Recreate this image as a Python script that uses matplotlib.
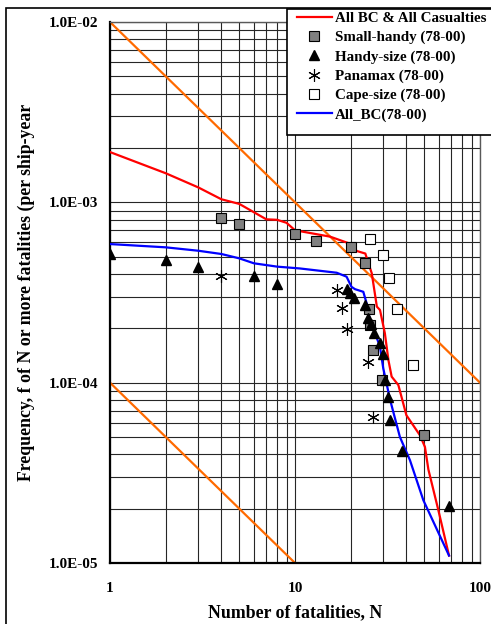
import numpy as np
import matplotlib
matplotlib.use("Agg")
import matplotlib.pyplot as plt
from matplotlib.patches import Rectangle

plt.rcParams['font.family'] = ['Liberation Serif', 'DejaVu Serif']
plt.rcParams['font.weight'] = 'bold'

# F-N curves
red_N = [1, 2, 3, 4, 5, 7, 8, 9, 10, 15.5, 19.8, 21.6, 24, 24.6, 26, 27.7, 28.8,
         30.6, 32, 33.3, 36.2, 40, 47.4, 50.4, 52.6, 59.5, 68]
red_f = [1.9e-3, 1.45e-3, 1.21e-3, 1.04e-3, 9.8e-4, 8.05e-4, 8.0e-4, 7.7e-4, 7.0e-4,
         6.45e-4, 5.9e-4, 5.37e-4, 5.2e-4, 4.8e-4, 4.04e-4, 2.64e-4, 2.53e-4,
         1.88e-4, 1.33e-4, 1.08e-4, 9.7e-5, 6.6e-5, 5.1e-5, 4.4e-5, 3.3e-5, 1.97e-5, 1.1e-5]

blue_N = [1, 2, 3, 4, 5, 6, 8, 10.6, 16.8, 19, 20.2, 21.1, 23.4, 24.4, 25.4, 27.1,
          28.8, 30, 32.7, 36.9, 41.8, 49.4, 68]
blue_f = [5.87e-4, 5.63e-4, 5.39e-4, 5.17e-4, 4.89e-4, 4.59e-4, 4.4e-4, 4.3e-4,
          4.07e-4, 3.87e-4, 3.4e-4, 3.3e-4, 3.19e-4, 2.75e-4, 2.22e-4, 1.88e-4,
          1.58e-4, 1.2e-4, 8.0e-5, 5.0e-5, 3.72e-5, 2.23e-5, 1.1e-5]

# ship categories
small_N = [4, 5, 10, 13, 20, 24, 25, 25.5, 26.5, 29.5, 50]
small_f = [8.15e-4, 7.6e-4, 6.7e-4, 6.1e-4, 5.65e-4, 4.6e-4, 2.55e-4, 2.08e-4,
           1.52e-4, 1.03e-4, 5.1e-5]

handy_N = [1, 2, 3, 6, 8, 19, 19.8, 20.8, 23.9, 24.9, 25.6, 26.7, 28.8, 29.8,
           30.5, 31.7, 32.5, 38, 68]
handy_f = [5.2e-4, 4.8e-4, 4.4e-4, 3.92e-4, 3.52e-4, 3.29e-4, 3.15e-4, 2.93e-4,
           2.69e-4, 2.27e-4, 2.11e-4, 1.88e-4, 1.65e-4, 1.45e-4, 1.04e-4, 8.3e-5,
           6.2e-5, 4.2e-5, 2.08e-5]

pana_N = [4, 16.8, 17.9, 19, 24.9, 26.5]
pana_f = [3.92e-4, 3.26e-4, 2.58e-4, 1.98e-4, 1.3e-4, 6.47e-5]

cape_N = [25.4, 29.8, 32.3, 35.5, 43.3]
cape_f = [6.3e-4, 5.08e-4, 3.79e-4, 2.55e-4, 1.26e-4]

# criterion lines
upper_N = [1, 100]
upper_f = [1e-2, 1e-4]
lower_N = [1, 10]
lower_f = [1e-4, 1e-5]

yticks = [1e-5, 1e-4, 1e-3, 1e-2]
ylabels = ["1.0E-05", "1.0E-04", "1.0E-03", "1.0E-02"]
xticks = [1, 10, 100]
xlabels = ["1", "10", "100"]

fig = plt.figure(figsize=(4.91, 6.24), dpi=100)
ax = fig.add_axes([110/491, 1-563/624, 370/491, 541/624])

ax.set_xscale('log')
ax.set_yscale('log')
ax.set_xlim(1, 100)
ax.set_ylim(1e-5, 1e-2)

ax.grid(True, which='both', color='0.15', lw=0.8)
ax.set_axisbelow(True)

orange = '#FF6A00'
ax.plot(upper_N, upper_f, color=orange, lw=1.6, zorder=2)
ax.plot(lower_N, lower_f, color=orange, lw=1.6, zorder=2)

l_red, = ax.plot(red_N, red_f, color='#FF0000', lw=1.6, zorder=3, label='All BC & All Casualties')
l_blue, = ax.plot(blue_N, blue_f, color='#0000FF', lw=1.6, zorder=3, label='All_BC(78-00)')

m_small, = ax.plot(small_N, small_f, ls='none', marker='s', ms=6.5, mfc='#808080', mec='black',
                   mew=0.8, zorder=4, label='Small-handy (78-00)')
m_handy, = ax.plot(handy_N, handy_f, ls='none', marker='^', ms=7.5, mfc='black', mec='black',
                   zorder=5, label='Handy-size (78-00)')
m_pana, = ax.plot(pana_N, pana_f, ls='none', marker=(6, 2, 0), ms=9, mec='black', mew=0.8,
                  zorder=4, label='Panamax (78-00)')
m_cape, = ax.plot(cape_N, cape_f, ls='none', marker='s', ms=6.5, mfc='white', mec='black',
                  mew=0.8, zorder=4, label='Cape-size (78-00)')

ax.set_yticks(yticks)
ax.set_yticklabels(ylabels)
ax.set_xticks(xticks)
ax.set_xticklabels(xlabels)
ax.yaxis.set_minor_formatter(plt.NullFormatter())
ax.xaxis.set_minor_formatter(plt.NullFormatter())
ax.tick_params(axis='both', which='both', length=0, labelsize=11)
ax.tick_params(axis='y', pad=8.5)
ax.tick_params(axis='x', pad=14)

for s in ['left', 'bottom']:
    ax.spines[s].set_linewidth(1.6)
for s in ['top', 'right']:
    ax.spines[s].set_linewidth(1.0)
    ax.spines[s].set_color('0.35')

ax.set_xlabel("Number of fatalities, N", fontsize=12.8, fontweight='bold', labelpad=6)
ax.set_ylabel("Frequency, f of N or more fatalities (per ship-year", fontsize=12.8,
              fontweight='bold', labelpad=10)

# legend box drawn by hand so the padding matches
fig.patches.append(Rectangle((286.5/491, 1-135/624), 1.0, 126/624, transform=fig.transFigure,
                             facecolor='white', edgecolor='black', lw=1.2, zorder=3))
leg = fig.legend(handles=[l_red, m_small, m_handy, m_pana, m_cape, l_blue],
                 loc='upper left', bbox_to_anchor=(297/491, 1-11.5/624),
                 fontsize=10.8, frameon=False, handlelength=2.3, handletextpad=0.25,
                 labelspacing=0.38, borderpad=0, borderaxespad=0)
leg.set_zorder(6)
for t in leg.get_texts():
    t.set_fontweight('bold')

# outer frame around the whole figure
fig.patches.append(Rectangle((6/491, -0.05), 1.1, 1.05 - 8/624, transform=fig.transFigure,
                             fill=False, edgecolor='black', lw=1.2, zorder=0))

fig.savefig("out.png", dpi=100)
